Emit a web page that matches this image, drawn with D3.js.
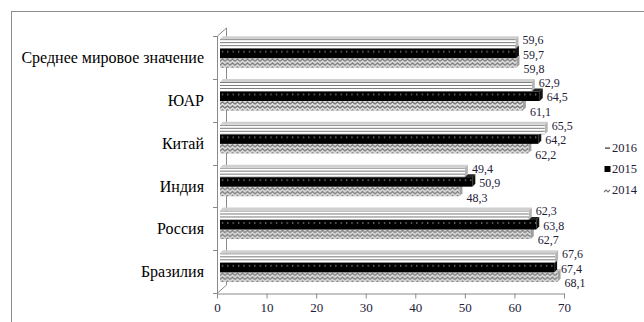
<!DOCTYPE html>
<html><head><meta charset="utf-8">
<script src="https://cdn.jsdelivr.net/npm/d3@7"></script>
<style>html,body{margin:0;padding:0;background:#fff;}svg{display:block;} text{font-family:"Liberation Serif","Times New Roman",serif;}</style>
</head><body>
<script>
const categories = ["Бразилия","Россия","Индия","Китай","ЮАР","Среднее мировое значение"];
const seriesNames = ["2016","2015","2014"];
const values2016 = [67.6, 62.3, 49.4, 65.5, 62.9, 59.6];
const values2015 = [67.4, 63.8, 50.9, 64.2, 64.5, 59.7];
const values2014 = [68.1, 62.7, 48.3, 62.2, 61.1, 59.8];
const xTicks = [0,10,20,30,40,50,60,70];

const W = 644, H = 322;
const svg = d3.select("body").append("svg").attr("width", W).attr("height", H);
svg.append("rect").attr("width", W).attr("height", H).attr("fill", "#fff");
svg.append("rect").attr("x", 11.5).attr("y", 11.5).attr("width", 700).attr("height", 400)
  .attr("fill", "none").attr("stroke", "#8c8c8c");

const defs = svg.append("defs");
const p16 = defs.append("pattern").attr("id","p2016").attr("patternUnits","userSpaceOnUse").attr("width",4).attr("height",3);
p16.append("rect").attr("width",4).attr("height",3).attr("fill","#fff");
p16.append("rect").attr("y",0).attr("width",4).attr("height",1).attr("fill","#7a7a7a");
const p15 = defs.append("pattern").attr("id","p2015").attr("patternUnits","userSpaceOnUse").attr("width",5.4).attr("height",10);
p15.append("rect").attr("width",5.4).attr("height",10).attr("fill","#000");
p15.append("rect").attr("x",2).attr("y",2.5).attr("width",1).attr("height",1).attr("fill","#fff");
const p14 = defs.append("pattern").attr("id","p2014").attr("patternUnits","userSpaceOnUse").attr("width",5).attr("height",4);
p14.append("rect").attr("width",5).attr("height",4).attr("fill","#e0e0e0");
p14.append("path").attr("d","M0,3.2 L2.5,0.8 L5,3.2").attr("fill","none").attr("stroke","#777").attr("stroke-width",1.2);

const x = d3.scaleLinear().domain([0,70]).range([217,564]);
const y = d3.scaleBand().domain(categories).range([293,36]);
const y1 = d3.scaleBand().domain(seriesNames).range([0, y.bandwidth()]).paddingInner(0).paddingOuter(0.75);

const axisColor = "#8a8a8a";
const dxw = 9, dyw = 8;
svg.append("line").attr("x1",x(0)+dxw+0.5).attr("x2",x(0)+dxw+0.5).attr("y1",36-dyw).attr("y2",293-dyw).attr("stroke",axisColor);
svg.append("line").attr("x1",x(0)+0.5).attr("y1",36).attr("x2",x(0)+dxw+0.5).attr("y2",36-dyw).attr("stroke",axisColor);
svg.append("line").attr("x1",x(0)+0.5).attr("y1",293).attr("x2",x(0)+dxw+0.5).attr("y2",293-dyw).attr("stroke",axisColor);

const data = seriesNames.map((s,i) => ({s, vals: [values2016, values2015, values2014][i]}));
const fills = {"2016":"url(#p2016)","2015":"url(#p2015)","2014":"url(#p2014)"};
const sideFill = {"2016":"#b5b5b5","2015":"#111","2014":"#a0a0a0"};
const topFill = {"2016":"#d0d0d0","2015":"#222","2014":"#bdbdbd"};
const bdx = 3, bdy = 3, shiftX = 3, shiftY = -4;
const barsG = svg.append("g");
const order = ["2014","2015","2016"];
const labelDy = {"2016":-4,"2015":1,"2014":6};
categories.forEach((c, ci) => {
  order.forEach(s => {
    const v = data.find(d => d.s === s).vals[ci];
    const bx = x(0) + shiftX, by = y(c) + y1(s) + shiftY;
    const bw = x(v) - x(0), bh = y1.bandwidth();
    const g = barsG.append("g").attr("transform", `translate(${bx},${by})`);
    g.append("path").attr("d", `M0,0 L${bw},0 L${bw+bdx},${-bdy} L${bdx},${-bdy} Z`).attr("fill", topFill[s]);
    g.append("path").attr("d", `M${bw},0 L${bw+bdx},${-bdy} L${bw+bdx},${bh-bdy} L${bw},${bh} Z`).attr("fill", sideFill[s]);
    g.append("rect").attr("width", bw).attr("height", bh).attr("fill", fills[s]);
  });
});
categories.forEach((c, ci) => {
  seriesNames.forEach(s => {
    const v = data.find(d => d.s === s).vals[ci];
    const cy = y(c) + y1(s) + shiftY + y1.bandwidth()/2 + labelDy[s];
    svg.append("text").attr("x", x(v) + 10).attr("y", cy).attr("dy","0.35em")
      .attr("font-size", 12).attr("fill", "#1e2038")
      .text(String(v.toFixed(1)).replace(".", ","));
  });
});

svg.append("line").attr("x1",x(0)+0.5).attr("x2",x(0)+0.5).attr("y1",36).attr("y2",293).attr("stroke",axisColor);
const bounds = categories.map(c => y(c)).concat([293]);
bounds.forEach(b => svg.append("line").attr("x1",x(0)-4).attr("x2",x(0)+0.5).attr("y1",Math.round(b)+0.5).attr("y2",Math.round(b)+0.5).attr("stroke",axisColor));
categories.forEach(c => {
  svg.append("text").attr("x", 204).attr("y", y(c) + y.bandwidth()/2).attr("dy","0.35em")
    .attr("text-anchor","end").attr("font-size", 16).attr("fill","#000").text(c);
});

const xa = svg.append("g").attr("transform","translate(0,293.5)")
  .call(d3.axisBottom(x).tickValues(xTicks).tickSize(5).tickSizeOuter(0).tickPadding(4));
xa.attr("font-family", null);
xa.select(".domain").attr("stroke",axisColor);
xa.selectAll(".tick line").attr("stroke",axisColor);
xa.selectAll(".tick text").attr("font-size",13).attr("fill","#1e2038");

const legY = {"2016":148,"2015":169,"2014":190};
seriesNames.forEach(s => {
  const ly = legY[s];
  const lg = svg.append("g");
  if (s === "2016") lg.append("rect").attr("x",605).attr("y",ly-0.5).attr("width",5).attr("height",1.2).attr("fill","#333");
  if (s === "2015") lg.append("rect").attr("x",604.5).attr("y",ly-3).attr("width",6).attr("height",6).attr("fill","#000");
  if (s === "2014") lg.append("path").attr("d",`M604,${ly+2} L606,${ly} L608,${ly+2} L610,${ly}`).attr("fill","none").attr("stroke","#777").attr("stroke-width",1.2);
  lg.append("text").attr("x",612).attr("y",ly).attr("dy","0.35em").attr("font-size",12.5).attr("fill","#1e2038").text(s);
});
</script>
</body></html>
